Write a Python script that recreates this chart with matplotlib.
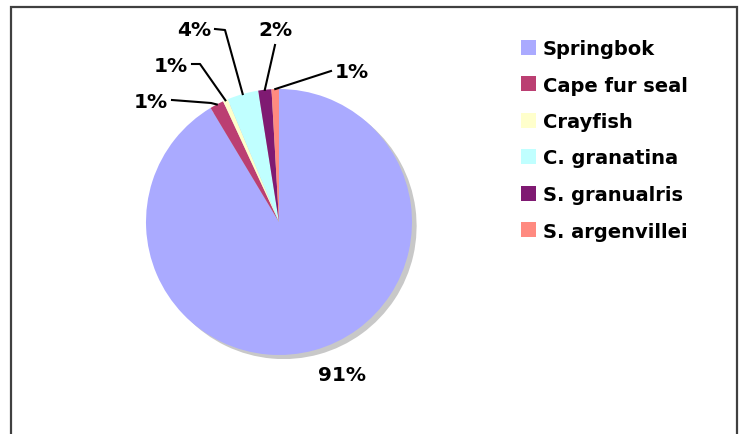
import numpy as np
import matplotlib
matplotlib.use("Agg")
import matplotlib.pyplot as plt
from matplotlib.patches import Rectangle

# ---- data ----
species = ["Springbok", "Cape fur seal", "Crayfish", "C. granatina",
           "S. granualris", "S. argenvillei"]
shares = [91.4, 1.7, 0.6, 3.8, 1.6, 0.9]
pct_labels = ["91%", "1%", "1%", "4%", "2%", "1%"]
colors = ["#aaaaff", "#bb3f72", "#ffffcc", "#c0ffff", "#7f1a72", "#ff8a80"]

W, H = 743, 435
fig = plt.figure(figsize=(W / 100, H / 100), dpi=100)
fig.patch.set_facecolor("white")

# outer frame (extends below the bottom edge)
fig.add_artist(Rectangle((11 / W, -0.05), (737 - 11) / W, 1.05 - 8 / H,
                         transform=fig.transFigure, fill=False,
                         edgecolor="#404040", linewidth=1.6, zorder=0))

cx, cy, R = 279, 223, 133
ax = fig.add_axes([(cx - R) / W, (H - cy - R) / H, 2 * R / W, 2 * R / H])

wedges, _ = ax.pie(shares, colors=colors, startangle=90, counterclock=False,
                   radius=1.0,
                   shadow={"ox": 0.025, "oy": -0.022, "facecolor": "#c8c8c8",
                           "edgecolor": "none", "alpha": 1.0},
                   wedgeprops={"linewidth": 0})
ax.set_xlim(-1, 1)
ax.set_ylim(-1, 1)
ax.set_aspect("equal")
ax.axis("off")


def px(x, y):
    return (x - cx) / R, (cy - y) / R


font = dict(fontsize=14.5, fontweight="bold", family="DejaVu Sans", color="black")

# label layout: (text pos px, ha, leader path points px before anchor)
layout = [
    ((342, 376), "center", None),
    ((168, 103), "right", [(172, 101), (211, 104)]),
    ((188, 67), "right", [(192, 65), (200, 65)]),
    ((211, 30), "right", [(215, 30), (225, 31)]),
    ((275, 30), "center", [(275, 46)]),
    ((335, 73), "left", [(331, 72)]),
]

for w, lab, (tpos, ha, path) in zip(wedges, pct_labels, layout):
    tx, ty = px(*tpos)
    ax.text(tx, ty, lab, ha=ha, va="center", clip_on=False, **font)
    if path is None:
        continue
    mid = np.deg2rad((w.theta1 + w.theta2) / 2)
    anchor = (np.cos(mid), np.sin(mid))
    pts = [px(*p) for p in path] + [anchor]
    xs, ys = zip(*pts)
    ax.plot(xs, ys, color="black", lw=1.5, clip_on=False, zorder=5)

leg = fig.legend(wedges, species, loc="upper left",
                 bbox_to_anchor=(521 / W, 1 - 40 / H), frameon=False,
                 prop=dict(size=14, weight="bold", family="DejaVu Sans"),
                 handlelength=0.78, handleheight=0.78, handletextpad=0.35,
                 labelspacing=0.90, borderpad=0, borderaxespad=0)

fig.savefig("out.png", dpi=100, facecolor="white")
